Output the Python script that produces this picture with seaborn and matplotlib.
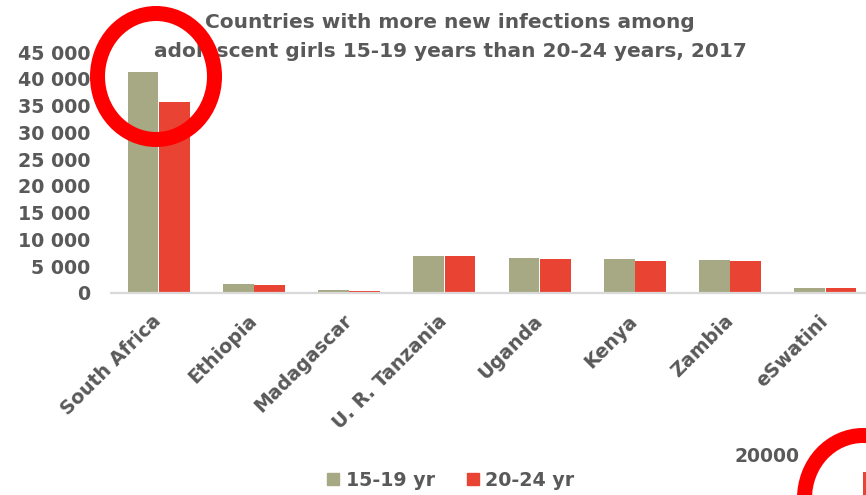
import matplotlib
matplotlib.use("Agg")
import matplotlib.pyplot as plt
from matplotlib.patches import Ellipse, Rectangle
from matplotlib.lines import Line2D
from matplotlib.ticker import FuncFormatter
import pandas as pd
import seaborn as sns

# New HIV infections, 2017
countries = ["South Africa", "Ethiopia", "Madagascar", "U. R. Tanzania",
             "Uganda", "Kenya", "Zambia", "eSwatini"]
girls_15_19 = [41200, 1700, 500, 6900, 6550, 6350, 6150, 1000]
women_20_24 = [35700, 1500, 300, 6900, 6350, 6000, 6000, 1000]
series_names = ["15-19 yr", "20-24 yr"]
y_ticks = list(range(0, 45001, 5000))

GREEN = "#A6A984"
RED = "#E94333"
TEXT = "#595959"
MARK = "#FF0000"

df = pd.DataFrame({
    "country": countries * 2,
    "infections": girls_15_19 + women_20_24,
    "age": [series_names[0]] * len(countries) + [series_names[1]] * len(countries),
})

sns.set_theme(style="white")
plt.rcParams["font.family"] = ["DejaVu Sans"]
plt.rcParams["font.weight"] = "bold"

W, H = 866, 495
fig = plt.figure(figsize=(W / 100, H / 100), dpi=100)
ax = fig.add_axes([111 / W, (H - 293) / H, 762 / W, (293 - 52) / H])

sns.barplot(data=df, x="country", y="infections", hue="age",
            order=countries, hue_order=series_names,
            palette=[GREEN, RED], saturation=1, width=0.66, gap=0.02,
            dodge=True, linewidth=0, legend=False, ax=ax)

ax.set_xlim(-0.5, len(countries) - 0.5)
ax.set_ylim(0, 45000)
ax.set_yticks(y_ticks)
ax.yaxis.set_major_formatter(FuncFormatter(lambda v, p: f"{int(v):,}".replace(",", " ")))
ax.set_xlabel("")
ax.set_ylabel("")
for s in ["top", "right", "left"]:
    ax.spines[s].set_visible(False)
ax.spines["bottom"].set_color("#D9D9D9")
ax.spines["bottom"].set_linewidth(1.6)
ax.tick_params(axis="both", length=0, colors=TEXT, labelsize=13.7)
ax.tick_params(axis="y", pad=15)
ax.tick_params(axis="x", pad=18)
for lab in ax.get_xticklabels():
    lab.set_rotation(45)
    lab.set_ha("right")
    lab.set_va("center")
    lab.set_rotation_mode("anchor")
    lab.set_fontweight("bold")
for lab in ax.get_yticklabels():
    lab.set_fontweight("bold")

fig.text(450 / W, 1 - 13 / H,
         "Countries with more new infections among\nadolescent girls 15-19 years than 20-24 years, 2017",
         ha="center", va="top", fontsize=14.5, fontweight="bold", color=TEXT,
         linespacing=1.65)

handles = [Line2D([], [], marker="s", linestyle="", markersize=9,
                  markerfacecolor=c, markeredgecolor=c) for c in (GREEN, RED)]
fig.legend(handles, series_names, loc="center", bbox_to_anchor=(450 / W, 15 / H),
           ncol=2, frameon=False, handletextpad=0.25,
           columnspacing=1.6, handlelength=0.8, labelcolor=TEXT,
           prop={"weight": "bold", "size": 13.7})

# highlight ring and neighbouring panel fragment
fig.add_artist(Ellipse((156 / W, 1 - 76.5 / H), 117 / W, 126 / H,
                       transform=fig.transFigure, fill=False,
                       edgecolor=MARK, linewidth=10.8, zorder=10))
fig.add_artist(Ellipse((863 / W, 1 - 498.5 / H), 117 / W, 126 / H,
                       transform=fig.transFigure, fill=False,
                       edgecolor=MARK, linewidth=10.8, zorder=10))
fig.add_artist(Rectangle((863 / W, 0), 4 / W, 23 / H, transform=fig.transFigure,
                         facecolor=RED, edgecolor="none", zorder=9))
fig.text(767 / W, 1 - 457 / H, "20000", ha="center", va="center",
         fontsize=13.5, fontweight="bold", color=TEXT)

fig.savefig("out.png", dpi=100)
